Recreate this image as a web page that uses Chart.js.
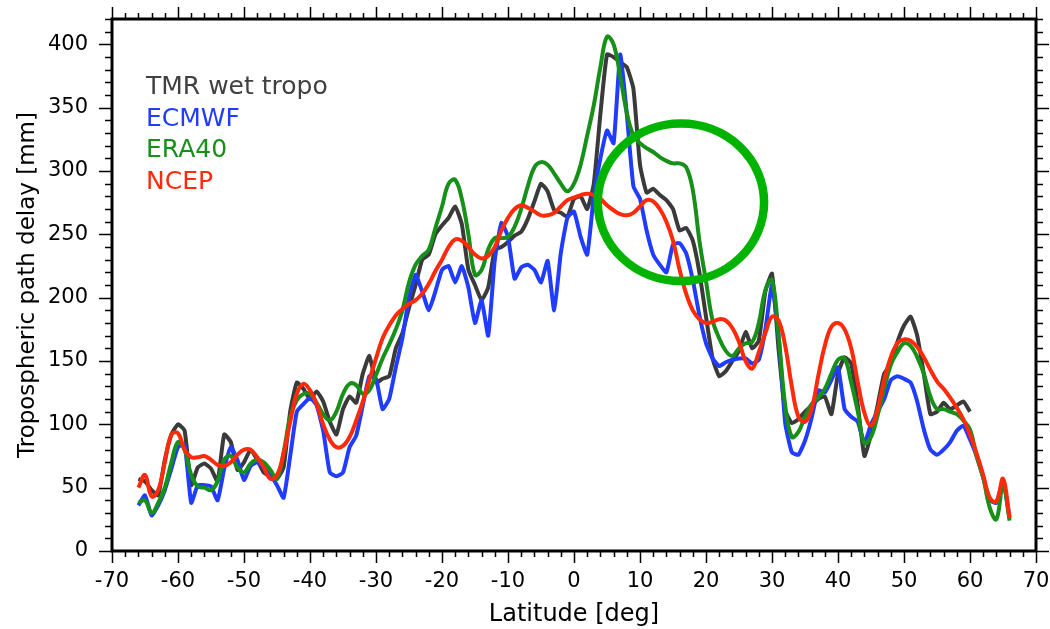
<!DOCTYPE html>
<html>
<head>
<meta charset="utf-8">
<script src="https://cdn.jsdelivr.net/npm/chart.js@4/dist/chart.umd.min.js"></script>
<style>
  html, body { margin: 0; padding: 0; background: #fff; }
  #wrap { width: 1050px; height: 629px; }
</style>
</head>
<body>
<div id="wrap"><canvas id="delayChart" width="1050" height="629"></canvas></div>
<script>
// latitude grid, -66 .. 66 deg
const lats = Array.from({length: 133}, (_, i) => i - 66);

const seriesNames = ['TMR wet tropo', 'ECMWF', 'ERA40', 'NCEP'];
const seriesColors = ['#3a3a3a', '#1f3cff', '#17901a', '#ff2a0a'];

const tmr = [
  57, 55, 48, 44, 72, 92, 100, 95, 52, 66,
  69, 65, 55, 92, 86, 64, 70, 80, 72, 62,
  59, 57, 66, 110, 133, 128, 120, 126, 118, 102,
  92, 112, 122, 117, 140, 154, 133, 136, 138, 160,
  172, 192, 210, 230, 234, 250, 257, 263, 272, 258,
  222, 210, 198, 208, 238, 240, 244, 249, 252, 262,
  276, 290, 284, 269, 267, 264, 278, 280, 270, 290,
  345, 392, 390, 386, 382, 365, 305, 283, 286, 281,
  277, 270, 253, 255, 245, 220, 185, 152, 138, 142,
  150, 158, 173, 160, 166, 205, 219, 159, 111, 101,
  104, 110, 115, 120, 122, 108, 140, 153, 148, 115,
  75, 92, 115, 140, 148, 165, 178, 185, 170, 140,
  108, 110, 117, 112, 115, 118, 110, null, null, null,
  null, null, null
];

const ecmwf = [
  36, 44, 28, 36, 48, 65, 82, 84, 38, 52,
  52, 51, 40, 65, 82, 72, 56, 67, 70, 66,
  60, 52, 42, 75, 110, 116, 121, 115, 95, 62,
  59, 62, 82, 91, 115, 138, 136, 112, 120, 145,
  168, 200, 218, 205, 190, 205, 222, 225, 212, 225,
  208, 180, 198, 170, 230, 259, 248, 215, 224, 226,
  222, 212, 229, 190, 235, 263, 268, 248, 234, 280,
  310, 332, 322, 392, 345, 288, 278, 253, 234, 226,
  220, 242, 243, 235, 214, 186, 164, 152, 146, 149,
  151, 152, 152, 148, 151, 175, 210, 170, 101, 78,
  76, 87, 105, 127, 125, 135, 145, 112, 106, 102,
  85, 100, 110, 120, 135, 138, 136, 133, 118, 96,
  80, 76, 80, 86, 95, 99, 88, 75, 58, 40,
  38, 55, 27
];

const era40 = [
  38, 40, 30, 38, 50, 70, 86, 80, 60, 51,
  50, 48, 55, 72, 75, 66, 62, 69, 72, 70,
  64, 57, 78, 106, 119, 124, 124, 117, 108, 103,
  110, 124, 132, 131, 124, 127, 139, 152, 163, 175,
  190, 212, 226, 233, 238, 255, 272, 290, 293, 278,
  250, 218, 222, 238, 247, 247, 248, 256, 270, 288,
  303, 307, 305, 298, 290, 284, 290, 305, 328, 352,
  382, 406, 400, 375, 346, 328, 322, 318, 315, 311,
  308, 306, 306, 303, 285, 245, 213, 182, 168, 158,
  154, 160, 164, 165, 180, 206, 214, 170, 115, 90,
  94, 106, 116, 121, 128, 140, 151, 152, 133, 110,
  85, 90, 107, 128, 147, 157, 164, 162, 153, 140,
  122, 112, 112, 110, 108, 103, 96, 75, 58, 34,
  25, 52, 24
];

const ncep = [
  50, 60, 43, 48, 70, 92, 93, 80, 74, 74,
  75, 72, 68, 67, 70, 76, 80, 80, 74, 66,
  57, 60, 77, 102, 124, 132, 127, 116, 100, 88,
  82, 83, 90, 103, 118, 135, 152, 168, 178, 186,
  191, 195, 198, 203, 211, 221, 230, 240, 246, 245,
  240, 234, 231, 233, 240, 253, 263, 270, 273, 271,
  268, 265, 265, 267, 272, 277, 279, 281, 282, 281,
  278, 273, 269, 266, 265, 267, 272, 277, 276, 270,
  260, 245, 222, 203, 190, 183, 180, 181, 183, 182,
  176, 165, 150, 144, 157, 172, 185, 182, 162, 130,
  106, 102, 112, 138, 162, 177, 180, 175, 160, 133,
  109, 99, 112, 135, 153, 164, 167, 166, 161, 153,
  143, 134, 128, 121, 113, 104, 92, 77, 60, 42,
  39, 57, 26
];

const seriesValues = [tmr, ecmwf, era40, ncep];
const seriesTension = [0.15, 0.15, 0.4, 0.4];
const drawOrder = [4, 3, 2, 1];   // lower = drawn on top

// axis ranges and tick steps
const xMin = -70, xMax = 70, xMajor = 10, xMinor = 2;
const yMin = 0, yMax = 420, yMajor = 50, yMinor = 10;

// highlighted region (data units)
const ringLat = 16.2, ringVal = 275.3, ringLatRadius = 12.6, ringValRadius = 62.2;

const datasets = seriesNames.map((name, i) => ({
  label: name,
  data: lats.map((lat, j) => ({x: lat, y: seriesValues[i][j]})),
  borderColor: seriesColors[i],
  borderWidth: 4,
  pointRadius: 0,
  tension: seriesTension[i],
  order: drawOrder[i],
  spanGaps: false
}));

// keep the plot box where the layout padding puts it
function noScalePadding(scale) {
  scale.paddingTop = 0;
  scale.paddingBottom = 0;
  scale.paddingLeft = 0;
  scale.paddingRight = 0;
}

const boxPlugin = {
  id: 'boxPlugin',
  afterDatasetsDraw(chart) {
    const {ctx, chartArea: a, scales: {x, y}} = chart;
    ctx.save();

    // green ring
    const cx = x.getPixelForValue(ringLat);
    const cy = y.getPixelForValue(ringVal);
    const rx = x.getPixelForValue(ringLat + ringLatRadius) - cx;
    const ry = cy - y.getPixelForValue(ringVal + ringValRadius);
    ctx.strokeStyle = '#00b300';
    ctx.lineWidth = 8.5;
    ctx.beginPath();
    ctx.ellipse(cx, cy, rx, ry, 0, 0, Math.PI * 2);
    ctx.stroke();

    // tick marks, outward on all four sides
    ctx.strokeStyle = '#000';
    ctx.lineWidth = 1.5;
    ctx.beginPath();
    for (let v = xMin; v <= xMax; v += xMinor) {
      const px = Math.round(x.getPixelForValue(v)) + 0.5;
      const len = v % xMajor === 0 ? 12 : 6;
      ctx.moveTo(px, a.bottom); ctx.lineTo(px, a.bottom + len);
      ctx.moveTo(px, a.top); ctx.lineTo(px, a.top - len);
    }
    for (let v = yMin; v <= yMax; v += yMinor) {
      const py = Math.round(y.getPixelForValue(v)) + 0.5;
      const len = v % yMajor === 0 ? 13 : 7;
      ctx.moveTo(a.left, py); ctx.lineTo(a.left - len, py);
      ctx.moveTo(a.right, py); ctx.lineTo(a.right + len, py);
    }
    ctx.stroke();

    // frame
    ctx.lineWidth = 3;
    ctx.strokeRect(a.left, a.top, a.right - a.left, a.bottom - a.top);

    // text legend
    ctx.font = '25px "DejaVu Sans"';
    ctx.textBaseline = 'alphabetic';
    ctx.textAlign = 'left';
    seriesNames.forEach((name, i) => {
      ctx.fillStyle = i === 0 ? '#404040' : seriesColors[i];
      ctx.fillText(name, a.left + 34, a.top + 75 + i * 31.7);
    });
    ctx.restore();
  }
};

new Chart(document.getElementById('delayChart').getContext('2d'), {
  type: 'line',
  data: { datasets },
  options: {
    responsive: false,
    animation: false,
    layout: { padding: { top: 19, right: 14, left: 0, bottom: 0 } },
    plugins: { legend: { display: false }, tooltip: { enabled: false } },
    scales: {
      x: {
        type: 'linear',
        min: xMin, max: xMax,
        grid: { display: false, drawTicks: false },
        border: { display: false },
        ticks: { stepSize: xMajor, color: '#000', padding: 18,
                 font: { family: 'DejaVu Sans', size: 21 } },
        title: { display: true, text: 'Latitude [deg]', color: '#000',
                 font: { family: 'DejaVu Sans', size: 24 }, padding: { top: 0, bottom: 0 } },
        afterFit(scale) { scale.height = 78; noScalePadding(scale); }
      },
      y: {
        min: yMin, max: yMax,
        grid: { display: false, drawTicks: false },
        border: { display: false },
        ticks: { stepSize: yMajor, includeBounds: false, color: '#000', padding: 24,
                 font: { family: 'DejaVu Sans', size: 21 } },
        title: { display: true, text: 'Tropospheric path delay [mm]', color: '#000',
                 font: { family: 'DejaVu Sans', size: 23 }, padding: { top: 14, bottom: 0 } },
        afterFit(scale) { scale.width = 112; noScalePadding(scale); }
      }
    }
  },
  plugins: [boxPlugin]
});
</script>
</body>
</html>
